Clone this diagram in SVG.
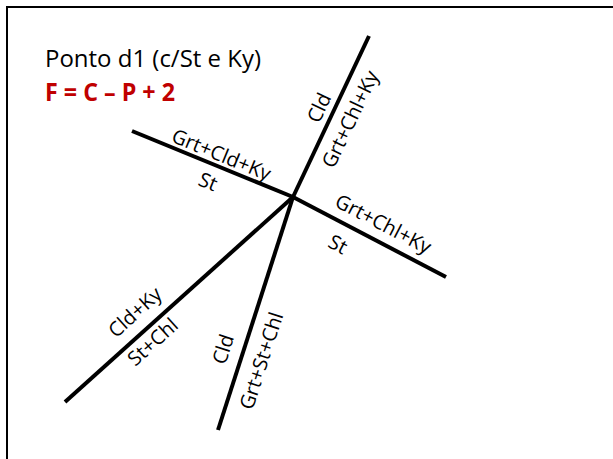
<svg xmlns="http://www.w3.org/2000/svg" width="613" height="459" viewBox="0 0 613 459">
<style>
.ln{stroke:#000;stroke-width:4;fill:none}
.lb{font-family:"Open Sans","Noto Sans",sans-serif;font-size:20px;fill:#000;text-anchor:middle}
.title{font-family:"Open Sans","Noto Sans",sans-serif;font-size:23px;fill:#000}
.eq{font-family:"Open Sans","Noto Sans",sans-serif;font-size:25px;font-weight:bold;fill:#C00000}
</style>
<rect x="7" y="7" width="640" height="480" fill="#fff" stroke="#000" stroke-width="2"/>
<g id="title">
<text class="title" x="45" y="67" textLength="216" lengthAdjust="spacingAndGlyphs">Ponto d1 (c/St e Ky)</text>
<text class="eq" x="45" y="101" textLength="130" lengthAdjust="spacingAndGlyphs">F = C – P + 2</text>
</g>
<g id="connectors">
<line class="ln" x1="132" y1="131" x2="293" y2="197"/>
<line class="ln" x1="293" y1="197" x2="369" y2="36"/>
<line class="ln" x1="293" y1="197" x2="446" y2="277"/>
<line class="ln" x1="65" y1="402" x2="293" y2="197"/>
<line class="ln" x1="218" y1="430" x2="293" y2="197"/>
</g>
<g id="reaction-upper-left">
<text class="lb" transform="translate(216.9,165.8) rotate(22.3)" x="0" y="-5">Grt+Cld+Ky</text>
<text class="lb" transform="translate(214.9,165) rotate(22.3)" x="0" y="25">St</text>
</g>
<g id="reaction-upper-right">
<text class="lb" transform="translate(332.6,114.2) rotate(-64.4)" x="0" y="-8">Cld</text>
<text class="lb" transform="translate(333.9,111.5) rotate(-64.4)" x="0" y="25">Grt+Chl+Ky</text>
</g>
<g id="reaction-right">
<text class="lb" transform="translate(375,239.9) rotate(27.6)" x="0" y="-11">Grt+Chl+Ky</text>
<text class="lb" transform="translate(347.8,225.7) rotate(27.6)" x="0" y="28">St</text>
</g>
<g id="reaction-lower-left">
<text class="lb" transform="translate(148.3,327.1) rotate(-42)" x="0" y="-13">Cld+Ky</text>
<text class="lb" transform="translate(143.4,331.5) rotate(-42)" x="0" y="21">St+Chl</text>
</g>
<g id="reaction-lower">
<text class="lb" transform="translate(242.1,355.2) rotate(-72.1)" x="0" y="-13">Cld</text>
<text class="lb" transform="translate(242.3,354.5) rotate(-72.1)" x="0" y="27">Grt+St+Chl</text>
</g>
</svg>
